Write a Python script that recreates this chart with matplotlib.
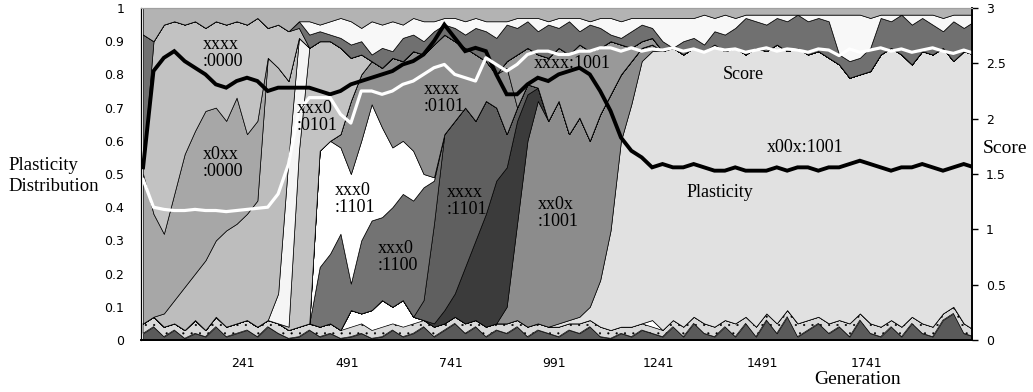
import numpy as np
import matplotlib
matplotlib.use('Agg')
from matplotlib import pyplot as plt

plt.rcParams['hatch.linewidth'] = 0.3

# generation axis (one sample every 25 generations)
gen = np.arange(1, 2002, 25)

# upper edge of every stacked genotype band, bottom to top (share of population, cumulative)
# 0 where the band is absent
noise_dark = [0.02,0.04,0.01,0.03,0.005,0.02,0.01,0.04,0.01,0.02,
              0.03,0.01,0.04,0.02,0.005,0.01,0.03,0.01,0.02,0.005,
              0.01,0.02,0.005,0.01,0.03,0.01,0.02,0.04,0.01,0.03,
              0.05,0.02,0.04,0.01,0.03,0.02,0.04,0.01,0.03,0.02,
              0.01,0.03,0.02,0.04,0.01,0.005,0.02,0.01,0.03,0.02,
              0.01,0.04,0.01,0.05,0.02,0.01,0.04,0.01,0.05,0.01,
              0.06,0.02,0.07,0.01,0.03,0.05,0.02,0.04,0.01,0.06,
              0.02,0.01,0.04,0.01,0.05,0.02,0.01,0.06,0.08,0.02,0.01]
noise_light = [0.05,0.07,0.04,0.05,0.03,0.06,0.03,0.07,0.04,0.05,
               0.06,0.04,0.06,0.05,0.03,0.04,0.05,0.04,0.05,0.03,
               0.04,0.05,0.03,0.04,0.05,0.04,0.05,0.06,0.04,0.05,
               0.07,0.05,0.06,0.04,0.05,0.05,0.06,0.04,0.05,0.04,
               0.04,0.05,0.05,0.06,0.04,0.03,0.04,0.04,0.05,0.04,
               0.03,0.06,0.04,0.07,0.05,0.04,0.06,0.05,0.07,0.04,
               0.08,0.05,0.09,0.05,0.06,0.07,0.05,0.06,0.05,0.08,
               0.05,0.04,0.06,0.04,0.07,0.05,0.04,0.08,0.10,0.05,0.03]
white_bump = [0,0,0,0,0,0,0,0,0,0,
              0,0,0,0,0,0,0,0,0,0,
              0.09,0.08,0.09,0.12,0.10,0.12,0.07,0,0,0,
              0,0,0,0,0,0,0,0,0,0,
              0,0,0,0,0,0,0,0,0,0.06,
              0,0,0,0,0,0,0,0,0,0,
              0,0,0,0,0,0,0,0,0,0,
              0,0,0,0,0,0,0,0,0,0,0]
x00x_1001 = [0,0,0,0,0,0,0,0,0,0,
             0,0,0,0,0,0,0,0,0,0,
             0,0,0,0,0,0,0,0,0,0,
             0,0,0,0,0,0,0,0,0,0,
             0.05,0.06,0.07,0.10,0.18,0.33,0.60,0.71,0.84,0.87,
             0.87,0.88,0.86,0.88,0.87,0.89,0.87,0.88,0.86,0.88,
             0.87,0.89,0.87,0.88,0.86,0.87,0.85,0.83,0.79,0.80,
             0.81,0.86,0.88,0.86,0.83,0.87,0.86,0.88,0.84,0.87,0.86]
xx0x_1001 = [0,0,0,0,0,0,0,0,0,0,
             0,0,0,0,0,0,0,0,0,0,
             0,0,0,0,0,0,0,0,0,0,
             0,0,0,0,0,0.10,0.35,0.60,0.72,0.66,
             0.72,0.62,0.67,0.60,0.68,0.74,0.80,0.84,0.88,0.89,
             0,0,0,0,0,0,0,0,0,0,
             0,0,0,0,0,0,0,0,0,0,
             0,0,0,0,0,0,0,0,0,0,0]
dark_band = [0,0,0,0,0,0,0,0,0,0,
             0,0,0,0,0,0,0,0,0,0,
             0,0,0,0,0,0,0,0,0.05,0.09,
             0.14,0.22,0.30,0.38,0.48,0.52,0.66,0.74,0.76,0,
             0,0,0,0,0,0,0,0,0,0,
             0,0,0,0,0,0,0,0,0,0,
             0,0,0,0,0,0,0,0,0,0,
             0,0,0,0,0,0,0,0,0,0,0]
xxxx_1101 = [0,0,0,0,0,0,0,0,0,0,
             0,0,0,0,0,0,0,0,0,0,
             0,0,0,0,0,0,0.06,0.12,0.35,0.62,
             0.66,0.70,0.66,0.72,0.70,0.62,0.70,0.77,0,0,
             0,0,0,0,0,0,0,0,0,0,
             0,0,0,0,0,0,0,0,0,0,
             0,0,0,0,0,0,0,0,0,0,
             0,0,0,0,0,0,0,0,0,0,0]
xxx0_1100 = [0,0,0,0,0,0,0,0,0,0,
             0,0,0,0,0,0,0.05,0.22,0.26,0.32,
             0.17,0.30,0.36,0.37,0.40,0.44,0.42,0.46,0.48,0,
             0,0,0,0,0,0,0,0,0,0,
             0,0,0,0,0,0,0,0,0,0,
             0,0,0,0,0,0,0,0,0,0,
             0,0,0,0,0,0,0,0,0,0,
             0,0,0,0,0,0,0,0,0,0,0]
xxx0_1101 = [0,0,0,0,0,0,0,0,0,0,
             0,0,0,0,0,0,0,0.57,0.60,0.58,
             0.50,0.60,0.71,0.64,0.58,0.60,0.57,0.50,0.49,0,
             0,0,0,0,0,0,0,0,0,0,
             0,0,0,0,0,0,0,0,0,0,
             0,0,0,0,0,0,0,0,0,0,
             0,0,0,0,0,0,0,0,0,0,
             0,0,0,0,0,0,0,0,0,0,0]
xxxx_0101 = [0,0,0,0,0,0,0,0,0,0,
             0,0,0,0,0,0,0,0,0,0.62,
             0.72,0.80,0.84,0.82,0.85,0.84,0.87,0.86,0.89,0.92,
             0.90,0.88,0.86,0.84,0.80,0.82,0,0,0,0,
             0,0,0,0,0,0,0,0,0,0,
             0,0,0,0,0,0,0,0,0,0,
             0,0,0,0,0,0,0,0,0,0,
             0,0,0,0,0,0,0,0,0,0,0]
xxxx_1001 = [0,0,0,0,0,0,0,0,0,0,
             0,0,0,0,0,0,0,0,0,0,
             0,0,0,0,0,0,0,0,0,0,
             0,0,0,0,0,0.84,0.86,0.88,0.86,0.85,
             0.88,0.86,0.89,0.87,0.88,0.90,0.89,0.88,0.90,0.91,
             0,0,0,0,0,0,0,0,0,0,
             0,0,0,0,0,0,0,0,0,0,
             0,0,0,0,0,0,0,0,0,0,0]
xxx0_0101 = [0,0,0,0,0,0,0,0,0,0,
             0,0,0,0,0.04,0.57,0.88,0.90,0.90,0.88,
             0.85,0.86,0,0,0,0,0,0,0,0,
             0,0,0,0,0,0,0,0,0,0,
             0,0,0,0,0,0,0,0,0,0,
             0,0,0,0,0,0,0,0,0,0,
             0,0,0,0,0,0,0,0,0,0,
             0,0,0,0,0,0,0,0,0,0,0]
white_sliver = [0,0,0,0,0,0,0,0,0,0,
                0,0,0,0.14,0.55,0.91,0,0,0,0,
                0,0,0,0,0,0,0,0,0,0,
                0,0,0,0,0,0,0,0,0,0,
                0,0,0,0,0,0,0,0,0,0,
                0,0,0,0,0,0,0,0,0,0,
                0,0,0,0,0,0,0,0,0,0,
                0,0,0,0,0,0,0,0,0,0,0]
early_low = [0.05,0.05,0.08,0.12,0.16,0.20,0.24,0.30,0.33,0.35,
             0.38,0.42,0.85,0.82,0.78,0,0,0,0,0,
             0,0,0,0,0,0,0,0,0,0,
             0,0,0,0,0,0,0,0,0,0,
             0,0,0,0,0,0,0,0,0,0,
             0,0,0,0,0,0,0,0,0,0,
             0,0,0,0,0,0,0,0,0,0,
             0,0,0,0,0,0,0,0,0,0,0]
x0xx_0000 = [0.50,0.38,0.32,0.44,0.56,0.63,0.69,0.70,0.66,0.73,
             0.62,0.66,0,0,0,0,0,0,0,0,
             0,0,0,0,0,0,0,0,0,0,
             0,0,0,0,0,0,0,0,0,0,
             0,0,0,0,0,0,0,0,0,0,
             0,0,0,0,0,0,0,0,0,0,
             0,0,0,0,0,0,0,0,0,0,
             0,0,0,0,0,0,0,0,0,0,0]
xxxx_0000 = [0.53,0.90,0.95,0.96,0.95,0.96,0.94,0.96,0.95,0.96,
             0.95,0.97,0.94,0.95,0.93,0.94,0,0,0,0,
             0,0,0,0,0,0,0,0,0,0,
             0,0,0,0,0,0,0,0,0,0,
             0,0,0,0,0,0,0,0,0,0,
             0,0,0,0,0,0,0,0,0,0,
             0,0,0,0,0,0,0,0,0,0,
             0,0,0,0,0,0,0,0,0,0,0]
top_dark = [0.92,0,0,0,0,0,0,0,0,0,
            0,0,0,0,0,0.96,0.92,0.93,0.92,0.91,
            0.89,0.90,0.86,0.88,0.87,0.91,0.92,0.90,0.93,0.95,
            0.94,0.92,0.94,0.93,0.91,0.95,0.94,0.96,0.93,0.95,
            0.94,0.96,0.93,0.95,0.94,0.92,0.91,0.93,0.95,0.94,
            0.90,0.88,0.90,0.91,0.89,0.93,0.92,0.94,0.97,0.96,
            0.95,0.97,0.96,0.98,0.96,0.97,0.96,0.86,0.84,0.85,
            0.88,0.97,0.96,0.98,0.95,0.97,0.95,0.93,0.96,0.94,0.96]
top_white = [0,0,0,0,0,0,0,0,0,0,
             0,0,0,0,0,0,0.96,0.95,0.96,0.97,
             0.96,0.94,0.96,0.95,0.96,0.95,0.97,0.96,0.96,0.97,
             0.97,0.96,0.97,0.96,0.96,0.96,0.97,0.97,0.97,0.96,
             0.97,0.97,0.97,0.96,0.97,0.97,0.96,0.97,0.97,0.97,
             0.97,0.97,0.97,0.97,0.98,0.97,0.98,0.97,0.98,0.98,
             0.98,0.98,0.98,0.98,0.98,0.98,0.98,0.98,0.98,0.98,
             0.97,0.98,0.98,0.98,0.98,0.98,0.98,0.97,0.98,0.98,0.98]

# mean plasticity (left axis) and score (right axis)
plasticity = [0.52,0.81,0.85,0.87,0.84,0.82,0.80,0.77,0.76,0.78,
              0.79,0.78,0.75,0.76,0.76,0.76,0.76,0.75,0.74,0.75,
              0.77,0.78,0.79,0.80,0.81,0.83,0.84,0.86,0.90,0.95,
              0.91,0.87,0.88,0.87,0.80,0.74,0.74,0.77,0.79,0.78,
              0.80,0.81,0.82,0.80,0.75,0.69,0.61,0.57,0.55,0.52,
              0.53,0.52,0.52,0.53,0.52,0.51,0.51,0.52,0.51,0.51,
              0.51,0.52,0.51,0.52,0.52,0.51,0.52,0.52,0.53,0.54,
              0.53,0.52,0.51,0.52,0.52,0.53,0.52,0.51,0.52,0.53,0.52]
score = [1.45,1.20,1.18,1.17,1.17,1.18,1.17,1.17,1.16,1.17,
         1.18,1.19,1.20,1.32,1.59,2.07,2.19,2.19,2.19,2.04,
         1.96,2.25,2.25,2.22,2.25,2.31,2.34,2.40,2.46,2.49,
         2.40,2.37,2.34,2.55,2.49,2.43,2.49,2.58,2.61,2.61,
         2.58,2.58,2.61,2.61,2.64,2.64,2.61,2.64,2.61,2.63,
         2.62,2.64,2.61,2.63,2.60,2.64,2.62,2.63,2.60,2.62,
         2.64,2.61,2.63,2.62,2.60,2.63,2.62,2.57,2.63,2.60,
         2.62,2.64,2.61,2.63,2.60,2.62,2.64,2.61,2.59,2.62,2.59]

bands = [noise_dark, noise_light, white_bump, x00x_1001, xx0x_1001, dark_band,
         xxxx_1101, xxx0_1100, xxx0_1101, xxxx_0101, xxxx_1001, xxx0_0101,
         white_sliver, early_low, x0xx_0000, xxxx_0000, top_dark, top_white]
band_colors = ['#5a5a5a', '#d9d9d9', '#ffffff', '#e1e1e1', '#8c8c8c', '#3b3b3b',
               '#5f5f5f', '#737373', '#ffffff', '#8f8f8f', '#999999', '#c3c3c3',
               '#f5f5f5', '#bdbdbd', '#a7a7a7', '#c2c2c2', '#707070', '#f8f8f8']
band_hatch = ['', '..', '', '', '', '', '', '', '', '', '', '',
              '', '', '', '', '', '']

label_font = ['Liberation Serif', 'DejaVu Serif']

fig = plt.figure(figsize=(10.33, 3.92), dpi=100)
ax = fig.add_axes([0.1365, 0.1327, 0.8045, 0.8469])

lower = np.zeros(len(gen))
for vals, col, hat in zip(bands, band_colors, band_hatch):
    upper = np.maximum(np.array(vals, dtype=float), lower)
    ax.fill_between(gen, lower, upper, facecolor=col, edgecolor='black',
                    linewidth=0.5, hatch=hat if hat else None)
    lower = upper
ax.fill_between(gen, lower, 1, facecolor='#b3b3b3', edgecolor='black', linewidth=0.5)

ax.plot(gen, plasticity, color='black', linewidth=2.8, solid_joinstyle='miter')

ax.set_xlim(-4, 1996)
ax.set_ylim(0, 1)
ax.set_yticks(np.arange(0, 1.01, 0.1))
ax.set_yticklabels(['0', '0.1', '0.2', '0.3', '0.4', '0.5', '0.6', '0.7', '0.8', '0.9', '1'])
ax.set_xticks([241, 491, 741, 991, 1241, 1491, 1741])
ax.tick_params(axis='y', length=0, pad=12, labelsize=9)
ax.tick_params(axis='x', length=0, pad=12, labelsize=9)

ax2 = ax.twinx()
ax2.plot(gen, score, color='white', linewidth=2.3)
ax2.set_ylim(0, 3)
ax2.set_yticks([0, 0.5, 1, 1.5, 2, 2.5, 3])
ax2.set_yticklabels(['0', '0.5', '1', '1.5', '2', '2.5', '3'])
ax2.tick_params(axis='y', length=4, width=1, pad=6, labelsize=9)
for a in (ax, ax2):
    a.spines['top'].set_color('#a0a0a0')
    a.spines['bottom'].set_linewidth(1.2)
    a.spines['right'].set_linewidth(1.2)

# genotype labels inside the plot (generation, share)
labels = [(193, 0.864, 'xxxx\n:0000'), (193, 0.532, 'x0xx\n:0000'),
          (420, 0.673, 'xxx0\n:0101'), (511, 0.425, 'xxx0\n:1101'),
          (614, 0.250, 'xxx0\n:1100'), (725, 0.730, 'xxxx\n:0101'),
          (781, 0.419, 'xxxx\n:1101'), (1000, 0.383, 'xx0x\n:1001'),
          (1033, 0.834, 'xxxx:1001'), (1445, 0.800, 'Score'),
          (1594, 0.581, 'x00x:1001'), (1389, 0.443, 'Plasticity')]
for gx, gy, txt in labels:
    ax2.text(gx, gy * 3, txt, ha='center', va='center', fontsize=13,
             family=label_font, linespacing=1.0, multialignment='left', zorder=5)

fig.text(8 / 1033, 1 - 176 / 392, 'Plasticity\nDistribution', ha='left', va='center',
         fontsize=13.5, family=label_font, linespacing=1.25)
fig.text(1005 / 1033, 1 - 149 / 392, 'Score', ha='center', va='center',
         fontsize=14, family=label_font)
fig.text(858 / 1033, 1 - 380 / 392, 'Generation', ha='center', va='center',
         fontsize=14, family=label_font)

fig.savefig('out.png', dpi=100)
